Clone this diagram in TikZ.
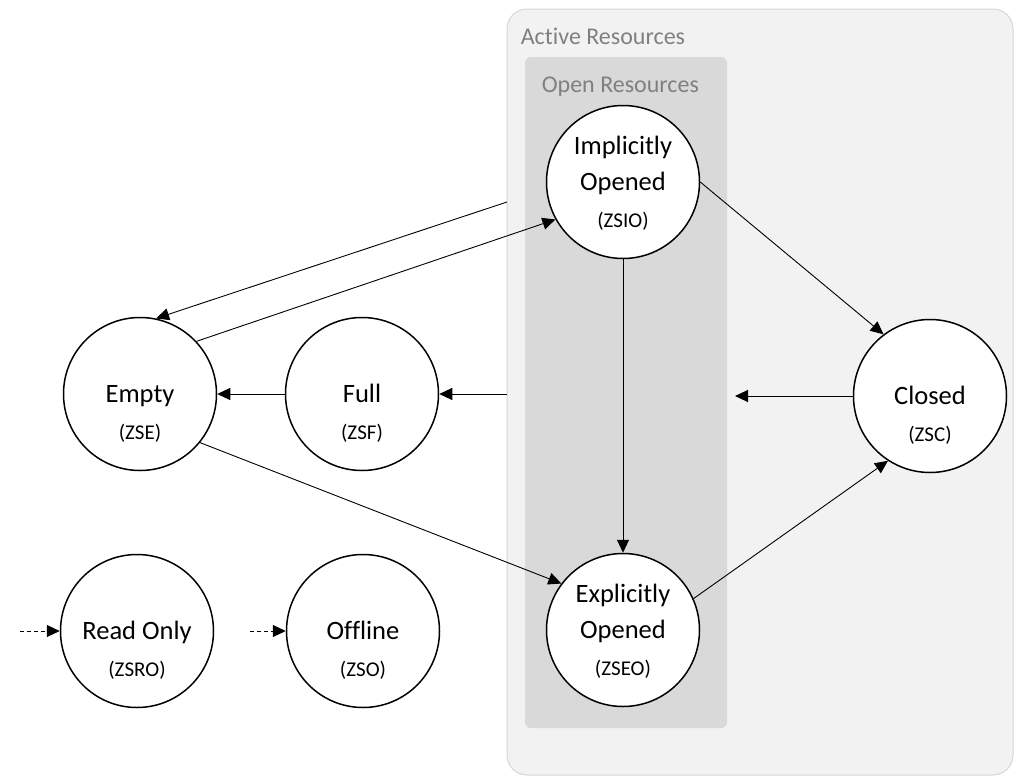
\documentclass[tikz,border=0pt]{standalone}
\usepackage{fontspec}
\setmainfont{Carlito}[Ligatures=NoCommon]
\usepackage{tikz}
\usepackage{xcolor}
\usetikzlibrary{
    arrows.meta,
    calc,
    positioning
}
\definecolor{activebg}{HTML}{F2F2F2}
\definecolor{activeline}{HTML}{D6D6D6}
\definecolor{openbg}{HTML}{D9D9D9}
\definecolor{boxtext}{HTML}{808080}
\newcommand{\zcode}[1]{{\fontsize{21}{36}\selectfont(#1)}}
\tikzset{
    state/.style={circle, draw, line width=1.5pt, fill=white, minimum size=153pt,
        inner sep=0pt, align=center, font=\fontsize{26.5}{36}\selectfont,
        text height=90pt, text depth=0pt},
    boxlabel/.style={anchor=base west, text=boxtext, font=\fontsize{24}{28}\selectfont}
}

\begin{document}
\begin{tikzpicture}[x=1pt, y=-1pt, >={Triangle[length=13pt, width=12pt]}, line width=0.9pt]
                    \useasboundingbox (0, 0) rectangle (1015, 777);

                    \draw[activeline, fill=activebg, rounded corners=20pt, line width=1pt] (507, 9) rectangle (1013, 775);
                    \fill[openbg, rounded corners=6pt] (525, 57) rectangle (727, 728);
                    \node[boxlabel] (ar) at (517, 44) {Active Resources};
                    \node[boxlabel] (or) at (538, 92) {Open Resources};

                    \node[state] (e) at (140, 394) {Empty\\[1pt]\zcode{ZSE}};
                    \node[state] (f) at (362, 394) {Full\\[1pt]\zcode{ZSF}};
                    \node[state] (io) at (623, 182) {Implicitly\\Opened\\[1pt]\zcode{ZSIO}};
                    \node[state] (eo) at (623, 630) {Explicitly\\Opened\\[1pt]\zcode{ZSEO}};
                    \node[state] (c) at (930, 396) {Closed\\[1pt]\zcode{ZSC}};
                    \node[state] (ro) at (137, 631) {Read Only\\[1pt]\zcode{ZSRO}};
                    \node[state] (o) at (363, 631) {Offline\\[1pt]\zcode{ZSO}};

                    \coordinate (ain) at (507, 202);
                    \coordinate (fin) at (507, 394);
                    \coordinate (cout) at (735, 396);
                    \coordinate (roin) at (20, 631);
                    \coordinate (oin) at (250, 631);

                    \draw
                    (ain) edge[->] (e.78)
                    (e.43) edge[->] (io.209)
                    (f) edge[->] (e)
                    (fin) edge[->] (f)
                    (c) edge[->] (cout)
                    (io.east) edge[->] (c.127)
                    (io) edge[->] (eo)
                    (e.-39) edge[->] (eo.143)
                    (eo.24) edge[->] (c.237)
                    (roin) edge[->, dash pattern=on 4pt off 3pt] (ro)
                    (oin) edge[->, dash pattern=on 4pt off 3pt] (o);
                \end{tikzpicture}
\end{document}
